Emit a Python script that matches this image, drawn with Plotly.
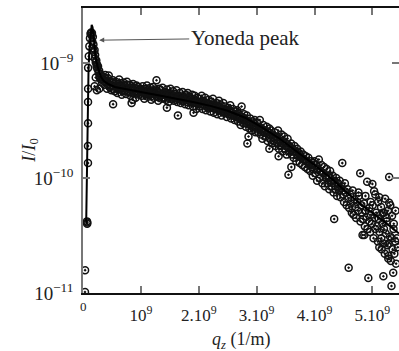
import plotly.graph_objects as go

# q_z in units of 1e9 1/m, reflectivity I/I0 in units of 1e-10

# steep rise below the critical angle
qz_rise = [0.034, 0.036, 0.068, 0.072, 0.075, 0.086, 0.086, 0.087, 0.087, 0.088, 0.088]
I_rise = [0.102, 0.158, 0.42, 0.40, 0.41, 1.35, 1.9, 3.0, 4.6, 6.0, 9.1]

# Yoneda peak and its decay
qz_peak = [0.10, 0.11, 0.12, 0.13, 0.14, 0.15, 0.155, 0.16, 0.17, 0.175, 0.18, 0.19,
           0.20, 0.205, 0.21, 0.22, 0.23, 0.235, 0.24, 0.25, 0.26, 0.27, 0.28, 0.29,
           0.30, 0.31, 0.32, 0.33, 0.34, 0.20, 0.24, 0.28, 0.22]
I_peak = [11.5, 14.0, 16.5, 18.0, 18.5, 17.5, 18.3, 15.5, 17.0, 13.5, 14.5, 12.5,
          13.0, 11.0, 11.8, 10.2, 10.6, 9.3, 9.8, 8.9, 9.4, 8.2, 8.6, 7.5,
          8.0, 7.2, 7.7, 6.8, 7.3, 6.3, 5.8, 6.0, 7.5]

# diffuse plateau, 0.35 - 1.0
qz_a = [0.355, 0.37, 0.385, 0.40, 0.415, 0.43, 0.445, 0.46, 0.475, 0.49,
        0.505, 0.52, 0.52, 0.535, 0.55, 0.565, 0.58, 0.595, 0.61, 0.625,
        0.64, 0.655, 0.67, 0.685, 0.70, 0.715, 0.73, 0.745, 0.76, 0.775,
        0.79, 0.805, 0.82, 0.835, 0.84, 0.85, 0.865, 0.88, 0.895, 0.91,
        0.925, 0.94, 0.955, 0.97, 0.985, 0.86,
        0.36, 0.39, 0.42, 0.45, 0.48, 0.51, 0.54, 0.57, 0.60, 0.63, 0.66,
        0.69, 0.72, 0.75, 0.78, 0.81, 0.84, 0.87, 0.90, 0.93, 0.96, 0.99]
I_a = [7.6, 6.5, 7.9, 6.9, 6.0, 7.4, 7.8, 6.2, 6.9, 5.8,
       6.8, 7.1, 4.4, 6.3, 5.7, 6.9, 6.1, 5.5, 6.6, 7.2,
       5.9, 6.4, 5.3, 6.2, 6.8, 5.7, 6.3, 5.4, 6.9, 6.0,
       5.6, 6.5, 5.2, 6.1, 4.5, 5.9, 6.6, 5.5, 6.1, 5.0,
       6.4, 5.7, 6.2, 5.3, 6.0, 4.8,
       7.0, 7.3, 6.6, 7.0, 6.4, 6.0, 6.6, 6.3, 5.9, 6.1, 6.7,
       5.8, 6.1, 6.5, 5.7, 6.0, 6.3, 5.8, 5.6, 6.0, 5.5, 5.8]

# 1.0 - 2.0
qz_b = [1.00, 1.015, 1.03, 1.045, 1.06, 1.075, 1.09, 1.105, 1.12, 1.135,
        1.15, 1.165, 1.18, 1.195, 1.21, 1.225, 1.24, 1.255, 1.27, 1.27,
        1.285, 1.30, 1.315, 1.33, 1.345, 1.36, 1.375, 1.39, 1.405, 1.42,
        1.435, 1.45, 1.465, 1.48, 1.495, 1.51, 1.525, 1.54, 1.555, 1.57,
        1.585, 1.60, 1.615, 1.63, 1.64, 1.645, 1.66, 1.675, 1.69, 1.705,
        1.72, 1.735, 1.75, 1.765, 1.78, 1.795, 1.81, 1.825, 1.84, 1.855,
        1.87, 1.885, 1.90, 1.915, 1.93, 1.945, 1.96, 1.975, 1.99, 1.91, 1.45,
        1.02, 1.05, 1.08, 1.11, 1.14, 1.17, 1.20, 1.23, 1.26, 1.29, 1.32,
        1.35, 1.38, 1.41, 1.44, 1.47, 1.50, 1.53, 1.56, 1.59, 1.62, 1.65,
        1.68, 1.71, 1.74, 1.77, 1.80, 1.83, 1.86, 1.89, 1.92, 1.95, 1.98]
I_b = [5.9, 5.2, 6.3, 5.5, 4.9, 6.0, 5.4, 6.4, 5.1, 5.7,
       5.3, 6.1, 4.8, 5.6, 6.2, 5.0, 5.5, 5.9, 7.1, 5.2,
       5.7, 4.7, 6.0, 5.3, 5.8, 4.9, 6.1, 5.4, 5.0, 5.6,
       4.8, 5.9, 5.2, 4.6, 5.5, 6.0, 4.9, 5.3, 5.7, 4.7,
       5.4, 5.0, 5.8, 4.6, 3.5, 5.2, 4.9, 5.5, 4.5, 5.1,
       5.6, 4.7, 5.0, 4.4, 5.3, 4.8, 5.5, 4.3, 5.1, 4.6,
       4.9, 5.3, 4.2, 4.8, 5.2, 4.5, 4.0, 5.0, 4.6, 3.7, 4.1,
       5.6, 5.8, 5.3, 5.5, 5.9, 5.4, 5.2, 5.7, 5.4, 5.1, 5.5,
       5.3, 5.0, 5.4, 5.2, 5.0, 5.3, 4.9, 5.1, 5.2, 4.8, 5.0,
       5.1, 4.7, 4.9, 5.0, 4.6, 4.9, 4.7, 4.5, 4.8, 4.6, 4.4]

# 2.0 - 3.0
qz_c = [2.005, 2.02, 2.035, 2.05, 2.065, 2.08, 2.095, 2.11, 2.125, 2.14,
        2.155, 2.17, 2.185, 2.20, 2.215, 2.23, 2.245, 2.26, 2.275, 2.29,
        2.305, 2.32, 2.335, 2.35, 2.365, 2.38, 2.395, 2.41, 2.425, 2.44,
        2.455, 2.47, 2.485, 2.50, 2.515, 2.53, 2.545, 2.56, 2.575, 2.59,
        2.605, 2.62, 2.635, 2.65, 2.665, 2.68, 2.695, 2.71, 2.725, 2.74,
        2.755, 2.77, 2.785, 2.80, 2.815, 2.83, 2.84, 2.845, 2.86, 2.875,
        2.89, 2.905, 2.92, 2.935, 2.95, 2.965, 2.98, 2.995,
        2.01, 2.04, 2.07, 2.10, 2.13, 2.16, 2.19, 2.22, 2.25, 2.28, 2.31,
        2.34, 2.37, 2.40, 2.43, 2.46, 2.49, 2.52, 2.55, 2.58, 2.61, 2.64,
        2.67, 2.70, 2.73, 2.76, 2.79, 2.82, 2.85, 2.88, 2.91, 2.94, 2.97]
I_c = [4.9, 4.2, 4.6, 5.2, 4.0, 4.7, 4.4, 5.0, 3.9, 4.5,
       4.1, 4.8, 4.3, 3.8, 4.6, 4.2, 4.9, 3.7, 4.4, 4.0,
       4.5, 3.6, 4.1, 4.7, 3.9, 4.3, 3.5, 4.0, 4.5, 3.7,
       4.2, 3.8, 3.4, 4.1, 3.6, 3.9, 4.3, 3.3, 3.7, 4.0,
       3.5, 3.2, 3.8, 3.4, 3.9, 3.1, 3.6, 3.3, 2.9, 4.2,
       3.4, 3.0, 3.6, 3.2, 2.8, 3.5, 2.0, 3.1, 2.3, 2.7,
       3.3, 2.9, 2.6, 3.1, 2.7, 3.2, 2.5, 2.8,
       4.5, 4.4, 4.6, 4.3, 4.5, 4.2, 4.4, 4.1, 4.3, 4.0, 4.2,
       3.9, 4.1, 3.8, 4.0, 3.7, 3.9, 3.6, 3.8, 3.5, 3.6, 3.4,
       3.5, 3.3, 3.4, 3.2, 3.3, 3.0, 3.1, 2.9, 3.0, 2.8, 2.85]

# 3.0 - 4.0
qz_d = [3.01, 3.025, 3.04, 3.055, 3.07, 3.085, 3.10, 3.115, 3.13, 3.145,
        3.16, 3.175, 3.19, 3.205, 3.22, 3.22, 3.235, 3.25, 3.265, 3.28,
        3.295, 3.31, 3.325, 3.34, 3.355, 3.37, 3.385, 3.40, 3.415, 3.43,
        3.445, 3.46, 3.475, 3.49, 3.505, 3.52, 3.535, 3.55, 3.565, 3.58,
        3.595, 3.61, 3.625, 3.64, 3.655, 3.67, 3.685, 3.70, 3.715, 3.73,
        3.745, 3.76, 3.775, 3.79, 3.805, 3.82, 3.835, 3.85, 3.865, 3.88,
        3.895, 3.91, 3.925, 3.94, 3.955, 3.97, 3.985, 3.60, 3.38,
        3.00, 3.05, 3.10, 3.15, 3.20, 3.25, 3.30, 3.35, 3.40, 3.45, 3.50,
        3.55, 3.60, 3.65, 3.70, 3.75, 3.80, 3.85, 3.90, 3.95]
I_d = [3.0, 2.5, 2.8, 3.2, 2.4, 2.7, 2.2, 2.9, 2.5, 2.6,
       2.3, 2.8, 2.1, 2.5, 2.7, 1.8, 2.2, 2.6, 2.0, 2.4,
       2.1, 2.5, 1.9, 2.3, 2.0, 2.6, 1.8, 2.2, 1.9, 2.4,
       1.7, 2.1, 2.3, 1.8, 2.0, 1.6, 2.2, 1.07, 1.9, 1.7,
       2.0, 1.6, 1.8, 1.5, 1.9, 1.7, 1.4, 1.8, 1.55, 1.65,
       1.35, 1.7, 1.5, 1.3, 1.6, 1.45, 1.25, 1.55, 1.4, 1.2,
       1.5, 1.3, 1.15, 1.4, 1.25, 1.05, 1.35, 1.25, 1.55,
       2.75, 2.7, 2.55, 2.5, 2.4, 2.35, 2.25, 2.15, 2.1, 2.0, 1.9,
       1.85, 1.75, 1.7, 1.6, 1.55, 1.45, 1.4, 1.35, 1.3]

# 4.0 - 5.45, noisy tail
qz_e = [4.00, 4.015, 4.03, 4.045, 4.06, 4.075, 4.09, 4.105, 4.12, 4.135,
        4.15, 4.165, 4.18, 4.195, 4.21, 4.225, 4.24, 4.255, 4.27, 4.285,
        4.30, 4.315, 4.33, 4.34, 4.345, 4.36, 4.375, 4.39, 4.405, 4.42,
        4.435, 4.45, 4.465, 4.48, 4.495, 4.51, 4.525, 4.54, 4.555, 4.57,
        4.585, 4.59, 4.60, 4.615, 4.63, 4.645, 4.66, 4.675, 4.69, 4.705,
        4.72, 4.735, 4.75, 4.765, 4.79, 4.795, 4.81, 4.825, 4.83, 4.84,
        4.855, 4.86, 4.87, 4.885, 4.90, 4.915, 4.93, 4.945, 4.95, 4.96,
        4.975, 4.99, 5.005, 5.02, 5.035, 5.05, 5.065, 5.08, 5.095, 5.11,
        5.12, 5.125, 5.14, 5.155, 5.16, 5.17, 5.185, 5.19, 5.20, 5.215,
        5.23, 5.245, 5.26, 5.275, 5.28, 5.28, 5.29, 5.305, 5.32, 5.33,
        5.335, 5.35, 5.36, 5.365, 5.38, 5.395, 5.41, 5.425, 5.44,
        4.91, 5.00, 5.03, 5.12, 5.29, 5.20, 5.05, 5.10, 5.15, 5.22,
        5.27, 5.31, 5.34, 5.37, 5.40, 5.25, 5.18, 4.97, 4.88, 4.76,
        4.05, 4.10, 4.15, 4.20, 4.25, 4.30, 4.35, 4.40, 4.45, 4.50]
I_e = [1.4, 1.1, 1.3, 0.95, 1.2, 1.45, 1.0, 1.15, 1.3, 0.9,
       1.1, 1.25, 0.85, 1.0, 1.2, 0.9, 1.05, 0.8, 1.15, 0.95,
       0.85, 1.05, 0.75, 0.44, 0.95, 0.8, 1.0, 0.7, 0.9, 0.78,
       0.95, 0.68, 0.85, 1.35, 0.72, 0.62, 0.9, 0.75, 0.58, 0.8,
       0.66, 0.166, 0.55, 0.72, 0.6, 0.5, 0.78, 0.48, 0.65, 0.56,
       0.45, 0.62, 0.52, 0.7, 1.1, 0.42, 0.58, 0.5, 0.32, 0.44,
       0.6, 0.32, 0.38, 0.52, 0.46, 0.36, 0.135, 0.55, 0.42, 0.34,
       0.48, 0.4, 0.58, 0.3, 0.45, 0.36, 0.5, 0.38, 0.28, 0.44,
       0.25, 0.34, 0.48, 0.3, 0.24, 0.4, 0.27, 0.14, 0.36, 0.22,
       0.33, 0.42, 0.26, 0.2, 0.27, 0.21, 1.02, 0.31, 0.19, 0.115,
       0.30, 0.24, 0.15, 0.36, 0.22, 0.28, 0.18, 0.3, 0.25,
       0.93, 0.89, 0.77, 0.68, 0.61, 0.5, 0.72, 0.62, 0.56, 0.66,
       0.52, 0.58, 0.47, 0.4, 0.52, 0.45, 0.5, 0.62, 0.7, 0.75,
       1.2, 1.15, 1.1, 1.05, 1.0, 0.95, 0.9, 0.85, 0.82, 0.78]

# fitted reflectivity curve
qz_fit = [0.055, 0.065, 0.075, 0.085, 0.095, 0.11, 0.13, 0.15, 0.165, 0.18, 0.20,
          0.22, 0.25, 0.28, 0.31, 0.36, 0.43, 0.55, 0.75, 1.0, 1.3, 1.6, 1.9,
          2.2, 2.5, 2.8, 3.1, 3.4, 3.7, 4.0, 4.3, 4.6, 4.9, 5.2, 5.46]
I_fit = [0.40, 1.0, 2.3, 5.0, 8.5, 13.0, 18.0, 21.5, 20.5, 17.0, 13.5,
         11.2, 9.4, 8.3, 7.6, 7.0, 6.6, 6.2, 5.9, 5.6, 5.25, 4.95, 4.6,
         4.25, 3.85, 3.35, 2.75, 2.2, 1.7, 1.3, 0.98, 0.72, 0.54, 0.42, 0.33]

x_tickvals = [0, 1, 2, 3, 4, 5]
x_ticktext = ["", "10<sup>9</sup>", "2.10<sup>9</sup>", "3.10<sup>9</sup>",
              "4.10<sup>9</sup>", "5.10<sup>9</sup>"]
y_tickvals = [1e-11, 1e-10, 1e-9]
y_ticktext = ["10<sup>\u221211</sup>", "10<sup>\u221210</sup>", "10<sup>\u22129</sup>"]
Y_RANGE = [-11, -8.52]

E10 = 1e-10
qz_all = qz_rise + qz_peak + qz_a + qz_b + qz_c + qz_d + qz_e
I_all = [v * E10 for v in I_rise + I_peak + I_a + I_b + I_c + I_d + I_e]

SERIF = "Liberation Serif, Times New Roman, serif"
TXT = "#222222"

fig = go.Figure()
fig.add_trace(go.Scatter(
    x=qz_all, y=I_all, mode="markers",
    marker=dict(symbol="circle-open-dot", size=7, color="#111",
                line=dict(width=1.5, color="#111")),
    showlegend=False, hoverinfo="skip"))
fig.add_trace(go.Scatter(
    x=qz_fit, y=[v * E10 for v in I_fit], mode="lines",
    line=dict(color="black", width=2), showlegend=False, hoverinfo="skip"))

fig.update_layout(
    width=399, height=351,
    margin=dict(l=83, r=0, t=8, b=58),
    paper_bgcolor="white", plot_bgcolor="white",
    font=dict(family=SERIF, size=17, color=TXT),
    xaxis=dict(range=[0, 5.46], tickvals=x_tickvals, ticktext=x_ticktext,
               ticks="inside", ticklen=7, tickcolor="#777", tickwidth=1.5,
               showline=True, linecolor="#111", linewidth=1.5, mirror="ticks",
               showgrid=False, zeroline=False, ticklabelstandoff=6,
               tickfont=dict(family=SERIF, size=17, color=TXT)),
    yaxis=dict(type="log", range=Y_RANGE, tickvals=y_tickvals, ticktext=y_ticktext,
               ticks="inside", ticklen=7, tickcolor="#777", tickwidth=1.5,
               showline=True, linecolor="#777", linewidth=1.5, mirror=False,
               showgrid=False, zeroline=False, ticklabelstandoff=4,
               tickfont=dict(family=SERIF, size=19, color=TXT)),
    # right-hand ticks only, the frame continues past the page edge
    yaxis2=dict(type="log", range=Y_RANGE, tickvals=y_tickvals, overlaying="y",
                side="right", ticks="inside", ticklen=7, tickcolor="#777", tickwidth=1.5,
                showline=False, showgrid=False, zeroline=False, showticklabels=False),
    annotations=[
        dict(x=0.28, y=-8.8, xref="x", yref="y",
             text="Yoneda peak", showarrow=True, ax=146, ay=-2,
             arrowhead=2, arrowsize=1, arrowwidth=1, arrowcolor="#555",
             font=dict(family=SERIF, size=21, color=TXT), xanchor="center"),
        dict(x=0, y=-0.048, xref="x", yref="paper", text="0", showarrow=False,
             yanchor="middle", xanchor="center",
             font=dict(family=SERIF, size=13, color=TXT)),
        dict(x=0.5, y=-0.12, xref="paper", yref="paper",
             text="<i>q<sub>z</sub></i> (1/m)", showarrow=False,
             font=dict(family=SERIF, size=18, color=TXT), yanchor="top"),
        dict(x=-0.21, y=0.5, xref="paper", yref="paper",
             text="<i>I</i>/<i>I</i><sub>0</sub>", showarrow=False, textangle=-90,
             font=dict(family=SERIF, size=18, color=TXT)),
    ],
)
fig.add_trace(go.Scatter(x=[None], y=[None], yaxis="y2", showlegend=False, hoverinfo="skip"))

fig.write_html("out.html")
